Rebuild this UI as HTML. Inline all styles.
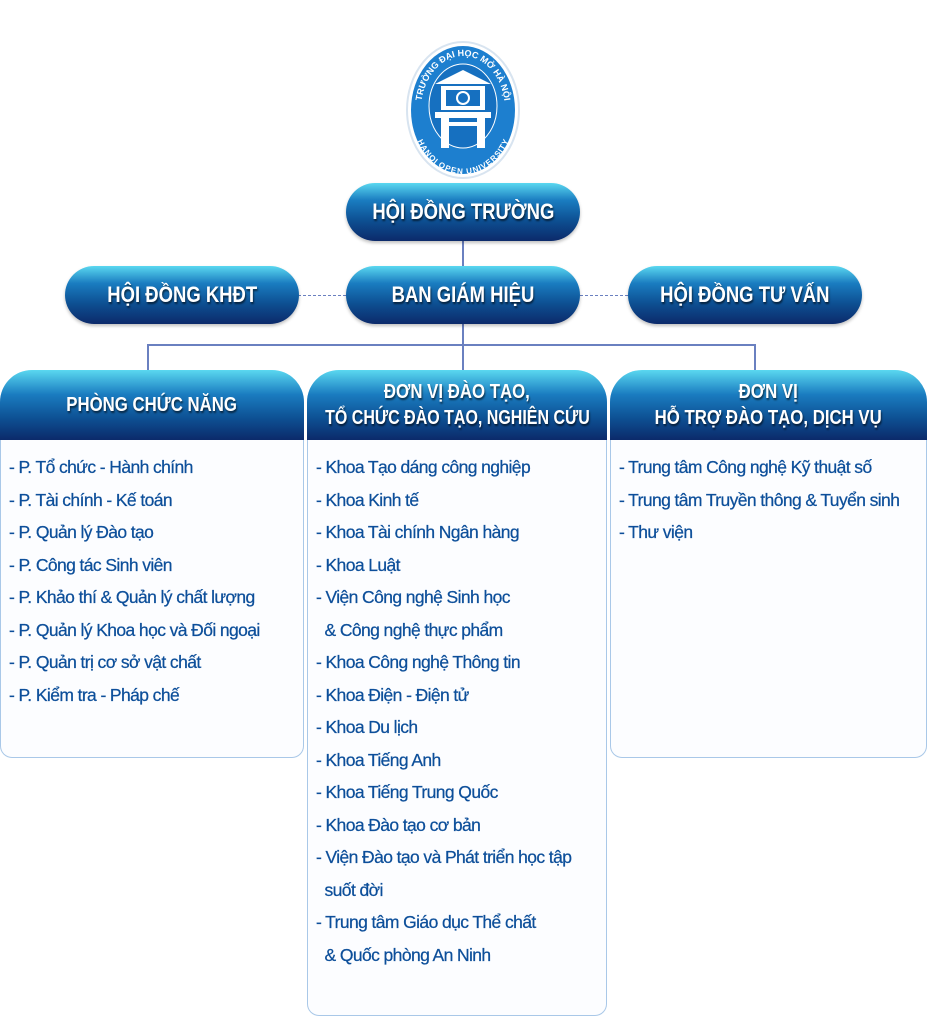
<!DOCTYPE html>
<html><head><meta charset="utf-8"><style>
body{margin:0;width:927px;height:1024px;background:#fff;position:relative;overflow:hidden;font-family:"Liberation Sans",sans-serif}
.pill{position:absolute;width:234px;height:58px;border-radius:29px;background:linear-gradient(#5ad8f0 0%,#1a7cc0 30%,#0d4f92 65%,#0c2a6a 100%);color:#fff;font-weight:bold;font-size:22px;display:flex;align-items:center;justify-content:center;text-shadow:1px 2px 2px rgba(0,0,0,.6);box-shadow:0 2px 3px rgba(0,0,0,.25)}
.pill span,.hd span{display:inline-block;transform:scaleX(.84);white-space:nowrap}
.col{position:absolute;top:370px}
.hd{height:70px;border-radius:32px 32px 0 0;background:linear-gradient(#5ad8f0 0%,#1a7cc0 35%,#0d4f92 70%,#0c2a6a 100%);color:#fff;font-weight:bold;font-size:20px;text-align:center;display:flex;flex-direction:column;justify-content:center;align-items:center;line-height:26px;text-shadow:1px 2px 2px rgba(0,0,0,.6)}
.bd{border:1.5px solid #a9c8e8;border-top:none;border-radius:0 0 12px 12px;background:#fcfdff;box-sizing:border-box;padding-top:11px}
.bd div{color:#0d4f9a;font-size:17.5px;line-height:32.5px;letter-spacing:-.6px;padding-left:8px;white-space:nowrap;-webkit-text-stroke:0.25px #0d4f9a}
.ln{position:absolute;background:#6a80c0}
</style></head><body>
<svg style="position:absolute;left:405px;top:40px" width="116" height="140" viewBox="0 0 116 140">
<defs><path id="a1" d="M16 70 A42 54 0 0 1 100 70"/><path id="a2" d="M14 70 A44 56 0 0 0 102 70"/></defs>
<ellipse cx="58" cy="70" rx="56" ry="68" fill="#fff" stroke="#d8e4f0" stroke-width="2"/>
<ellipse cx="58" cy="70" rx="52" ry="64" fill="#1d7fcf"/>
<ellipse cx="58" cy="66" rx="34" ry="42" fill="#1670c0" stroke="#fff" stroke-width="1"/>
<path d="M30 44 L58 30 L86 44 Z" fill="#fff"/>
<rect x="36" y="46" width="44" height="24" fill="#fff"/>
<rect x="41" y="50" width="34" height="16" fill="#1670c0"/>
<circle cx="58" cy="58" r="6" fill="none" stroke="#fff" stroke-width="2"/>
<rect x="30" y="72" width="56" height="6" fill="#fff"/>
<rect x="36" y="78" width="8" height="30" fill="#fff"/><rect x="72" y="78" width="8" height="30" fill="#fff"/>
<rect x="44" y="82" width="28" height="4" fill="#fff"/>
<text font-size="9" font-weight="bold" fill="#fff" font-family="Liberation Sans"><textPath href="#a1" startOffset="50%" text-anchor="middle">TRƯỜNG ĐẠI HỌC MỞ HÀ NỘI</textPath></text>
<text font-size="8" font-weight="bold" fill="#fff" font-family="Liberation Sans" dy="8"><textPath href="#a2" startOffset="50%" text-anchor="middle">HANOI OPEN UNIVERSITY</textPath></text>
</svg>
<div class="ln" style="left:462px;top:240px;width:2px;height:106px"></div>
<div class="ln" style="left:148px;top:344px;width:608px;height:2px"></div>
<div class="ln" style="left:147px;top:344px;width:2px;height:28px"></div>
<div class="ln" style="left:462px;top:344px;width:2px;height:28px"></div>
<div class="ln" style="left:754px;top:344px;width:2px;height:28px"></div>
<div style="position:absolute;left:298px;top:295px;width:48px;border-top:1.5px dashed #6a80c0"></div>
<div style="position:absolute;left:580px;top:295px;width:48px;border-top:1.5px dashed #6a80c0"></div>
<div class="pill" style="left:346px;top:183px"><span>HỘI ĐỒNG TRƯỜNG</span></div>
<div class="pill" style="left:65px;top:266px"><span>HỘI ĐỒNG KHĐT</span></div>
<div class="pill" style="left:346px;top:266px"><span>BAN GIÁM HIỆU</span></div>
<div class="pill" style="left:628px;top:266px"><span>HỘI ĐỒNG TƯ VẤN</span></div>
<div class="col" style="left:0;width:304px"><div class="hd"><span>PHÒNG CHỨC NĂNG</span></div>
<div class="bd" style="height:318px">
<div>- P. Tổ chức - Hành chính</div><div>- P. Tài chính - Kế toán</div><div>- P. Quản lý Đào tạo</div><div>- P. Công tác Sinh viên</div><div>- P. Khảo thí &amp; Quản lý chất lượng</div><div>- P. Quản lý Khoa học và Đối ngoại</div><div>- P. Quản trị cơ sở vật chất</div><div>- P. Kiểm tra - Pháp chế</div></div></div>
<div class="col" style="left:307px;width:300px"><div class="hd"><span>ĐƠN VỊ ĐÀO TẠO,</span><span style="transform:scaleX(.8)">TỔ CHỨC ĐÀO TẠO, NGHIÊN CỨU</span></div>
<div class="bd" style="height:576px">
<div>- Khoa Tạo dáng công nghiệp</div><div>- Khoa Kinh tế</div><div>- Khoa Tài chính Ngân hàng</div><div>- Khoa Luật</div><div>- Viện Công nghệ Sinh học</div><div>&nbsp;&nbsp;&amp; Công nghệ thực phẩm</div><div>- Khoa Công nghệ Thông tin</div><div>- Khoa Điện - Điện tử</div><div>- Khoa Du lịch</div><div>- Khoa Tiếng Anh</div><div>- Khoa Tiếng Trung Quốc</div><div>- Khoa Đào tạo cơ bản</div><div>- Viện Đào tạo và Phát triển học tập</div><div>&nbsp;&nbsp;suốt đời</div><div>- Trung tâm Giáo dục Thể chất</div><div>&nbsp;&nbsp;&amp; Quốc phòng An Ninh</div></div></div>
<div class="col" style="left:610px;width:317px"><div class="hd"><span>ĐƠN VỊ</span><span>HỖ TRỢ ĐÀO TẠO, DỊCH VỤ</span></div>
<div class="bd" style="height:318px">
<div>- Trung tâm Công nghệ Kỹ thuật số</div><div>- Trung tâm Truyền thông &amp; Tuyển sinh</div><div>- Thư viện</div></div></div>
</body></html>
